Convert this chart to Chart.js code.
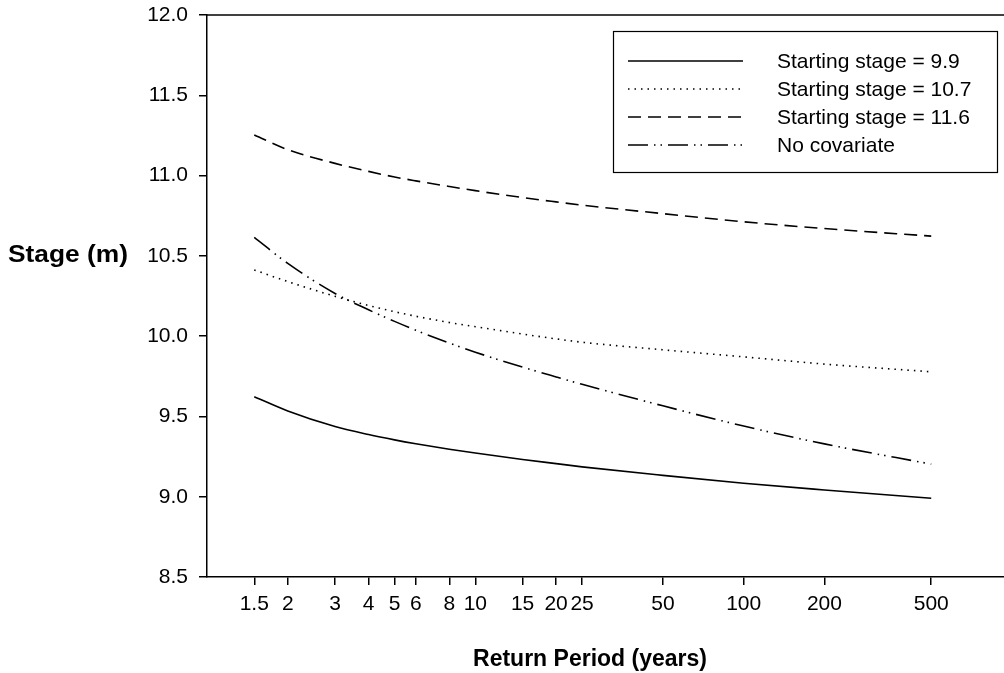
<!DOCTYPE html>
<html>
<head>
<meta charset="utf-8">
<script src="https://cdn.jsdelivr.net/npm/chart.js@4.4.1/dist/chart.umd.min.js"></script>
<style>
  html, body { margin: 0; padding: 0; background: #fff; overflow: hidden; }
  #wrap { position: relative; width: 1020px; height: 673px; }
</style>
</head>
<body>
<div id="wrap"><canvas id="stageChart"></canvas></div>
<script>
// return periods (years) and the x tick labels
const returnPeriods = [1.5, 2, 3, 4, 5, 6, 8, 10, 15, 20, 25, 50, 100, 200, 500];
const xTickValues = [1.5, 2, 3, 4, 5, 6, 8, 10, 15, 20, 25, 50, 100, 200, 500];

// stage (m) for each curve
const stage99 = [9.623, 9.534, 9.437, 9.387, 9.354, 9.330, 9.296, 9.272, 9.232, 9.206, 9.186, 9.133, 9.084, 9.042, 8.990];
const stage107 = [10.412, 10.340, 10.248, 10.191, 10.152, 10.124, 10.085, 10.059, 10.013, 9.983, 9.962, 9.915, 9.871, 9.826, 9.778];
const stage116 = [11.253, 11.161, 11.076, 11.026, 10.991, 10.967, 10.932, 10.906, 10.863, 10.836, 10.816, 10.763, 10.712, 10.670, 10.623];
const noCovariate = [10.615, 10.453, 10.266, 10.164, 10.092, 10.037, 9.957, 9.900, 9.807, 9.746, 9.700, 9.566, 9.440, 9.329, 9.203];

const seriesLabels = ['Starting stage = 9.9', 'Starting stage = 10.7', 'Starting stage = 11.6', 'No covariate'];
const yTickValues = [8.5, 9.0, 9.5, 10.0, 10.5, 11.0, 11.5, 12.0];

const FONT = "'Liberation Sans', Arial, sans-serif";

function toPoints(values) {
    return returnPeriods.map((t, i) => ({ x: t, y: values[i] }));
}

function lineSet(label, values, dash) {
    return {
        label: label,
        data: toPoints(values),
        borderColor: '#000',
        borderWidth: 1.6,
        borderDash: dash,
        pointRadius: 0,
        fill: false,
        cubicInterpolationMode: 'monotone'
    };
}

// top frame line, both axis titles and the boxed legend
const framePlugin = {
    id: 'frame',
    afterDraw(chart) {
        const c = chart.ctx;
        const area = chart.chartArea;
        c.save();
        c.strokeStyle = '#000';
        c.lineWidth = 1.5;
        c.setLineDash([]);
        c.beginPath();
        c.moveTo(area.left, area.top);
        c.lineTo(area.right, area.top);
        c.stroke();

        // axis titles
        c.fillStyle = '#000';
        c.font = 'bold 23px ' + FONT;
        c.textBaseline = 'middle';
        c.textAlign = 'left';
        // y title is horizontal and a bit wider in the original
        const yTitle = 'Stage (m)';
        const stretch = 120 / c.measureText(yTitle).width;
        c.save();
        c.translate(8, chart.scales.y.getPixelForValue(10.5));
        c.scale(stretch, 1);
        c.fillText(yTitle, 0, 0);
        c.restore();
        c.textAlign = 'center';
        c.fillText('Return Period (years)', 590, 660);

        // legend
        c.lineWidth = 1.2;
        c.strokeRect(613.5, 31.5, 384, 141);
        const rowY = [61, 89, 117, 145];
        c.font = '21px ' + FONT;
        c.textAlign = 'left';
        chart.data.datasets.forEach((ds, i) => {
            c.beginPath();
            c.lineWidth = ds.borderWidth;
            c.setLineDash(ds.borderDash || []);
            c.moveTo(628, rowY[i]);
            c.lineTo(743, rowY[i]);
            c.stroke();
            c.setLineDash([]);
            c.fillText(ds.label, 777, rowY[i] + 1);
        });
        c.restore();
    }
};

const ctx = document.getElementById('stageChart').getContext('2d');

const stageChart = new Chart(ctx, {
    type: 'line',
    data: {
        datasets: [
            lineSet(seriesLabels[0], stage99, []),
            lineSet(seriesLabels[1], stage107, [1.5, 5]),
            lineSet(seriesLabels[2], stage116, [13, 7]),
            lineSet(seriesLabels[3], noCovariate, [20, 6, 1.5, 5, 1.5, 6])
        ]
    },
    options: {
        responsive: true,
        maintainAspectRatio: false,
        animation: false,
        layout: { padding: { top: 15, right: 8, left: 0, bottom: 0 } },
        plugins: {
            legend: { display: false },
            tooltip: { enabled: false }
        },
        scales: {
            x: {
                type: 'logarithmic',
                min: 1,
                max: 1000,
                afterBuildTicks: (scale) => {
                    scale.ticks = xTickValues.map(v => ({ value: v }));
                },
                afterFit: (scale) => {
                    scale.height = 96;
                    scale.paddingLeft = 0;
                    scale.paddingRight = 0;
                },
                grid: { drawOnChartArea: false, tickLength: 8, color: '#000', lineWidth: 1.5 },
                border: { color: '#000', width: 1.5 },
                ticks: {
                    autoSkip: false,
                    maxRotation: 0,
                    padding: 7,
                    color: '#000',
                    font: { family: FONT, size: 21 },
                    callback: (v) => String(v)
                }
            },
            y: {
                min: 8.5,
                max: 12,
                afterBuildTicks: (scale) => {
                    scale.ticks = yTickValues.map(v => ({ value: v }));
                },
                afterFit: (scale) => {
                    scale.width = 207;
                    scale.paddingTop = 0;
                    scale.paddingBottom = 0;
                },
                grid: { drawOnChartArea: false, tickLength: 8, color: '#000', lineWidth: 1.5 },
                border: { color: '#000', width: 1.5 },
                ticks: {
                    padding: 11,
                    color: '#000',
                    font: { family: FONT, size: 21 },
                    callback: (v) => Number(v).toFixed(1)
                }
            }
        }
    },
    plugins: [framePlugin]
});
</script>
</body>
</html>
